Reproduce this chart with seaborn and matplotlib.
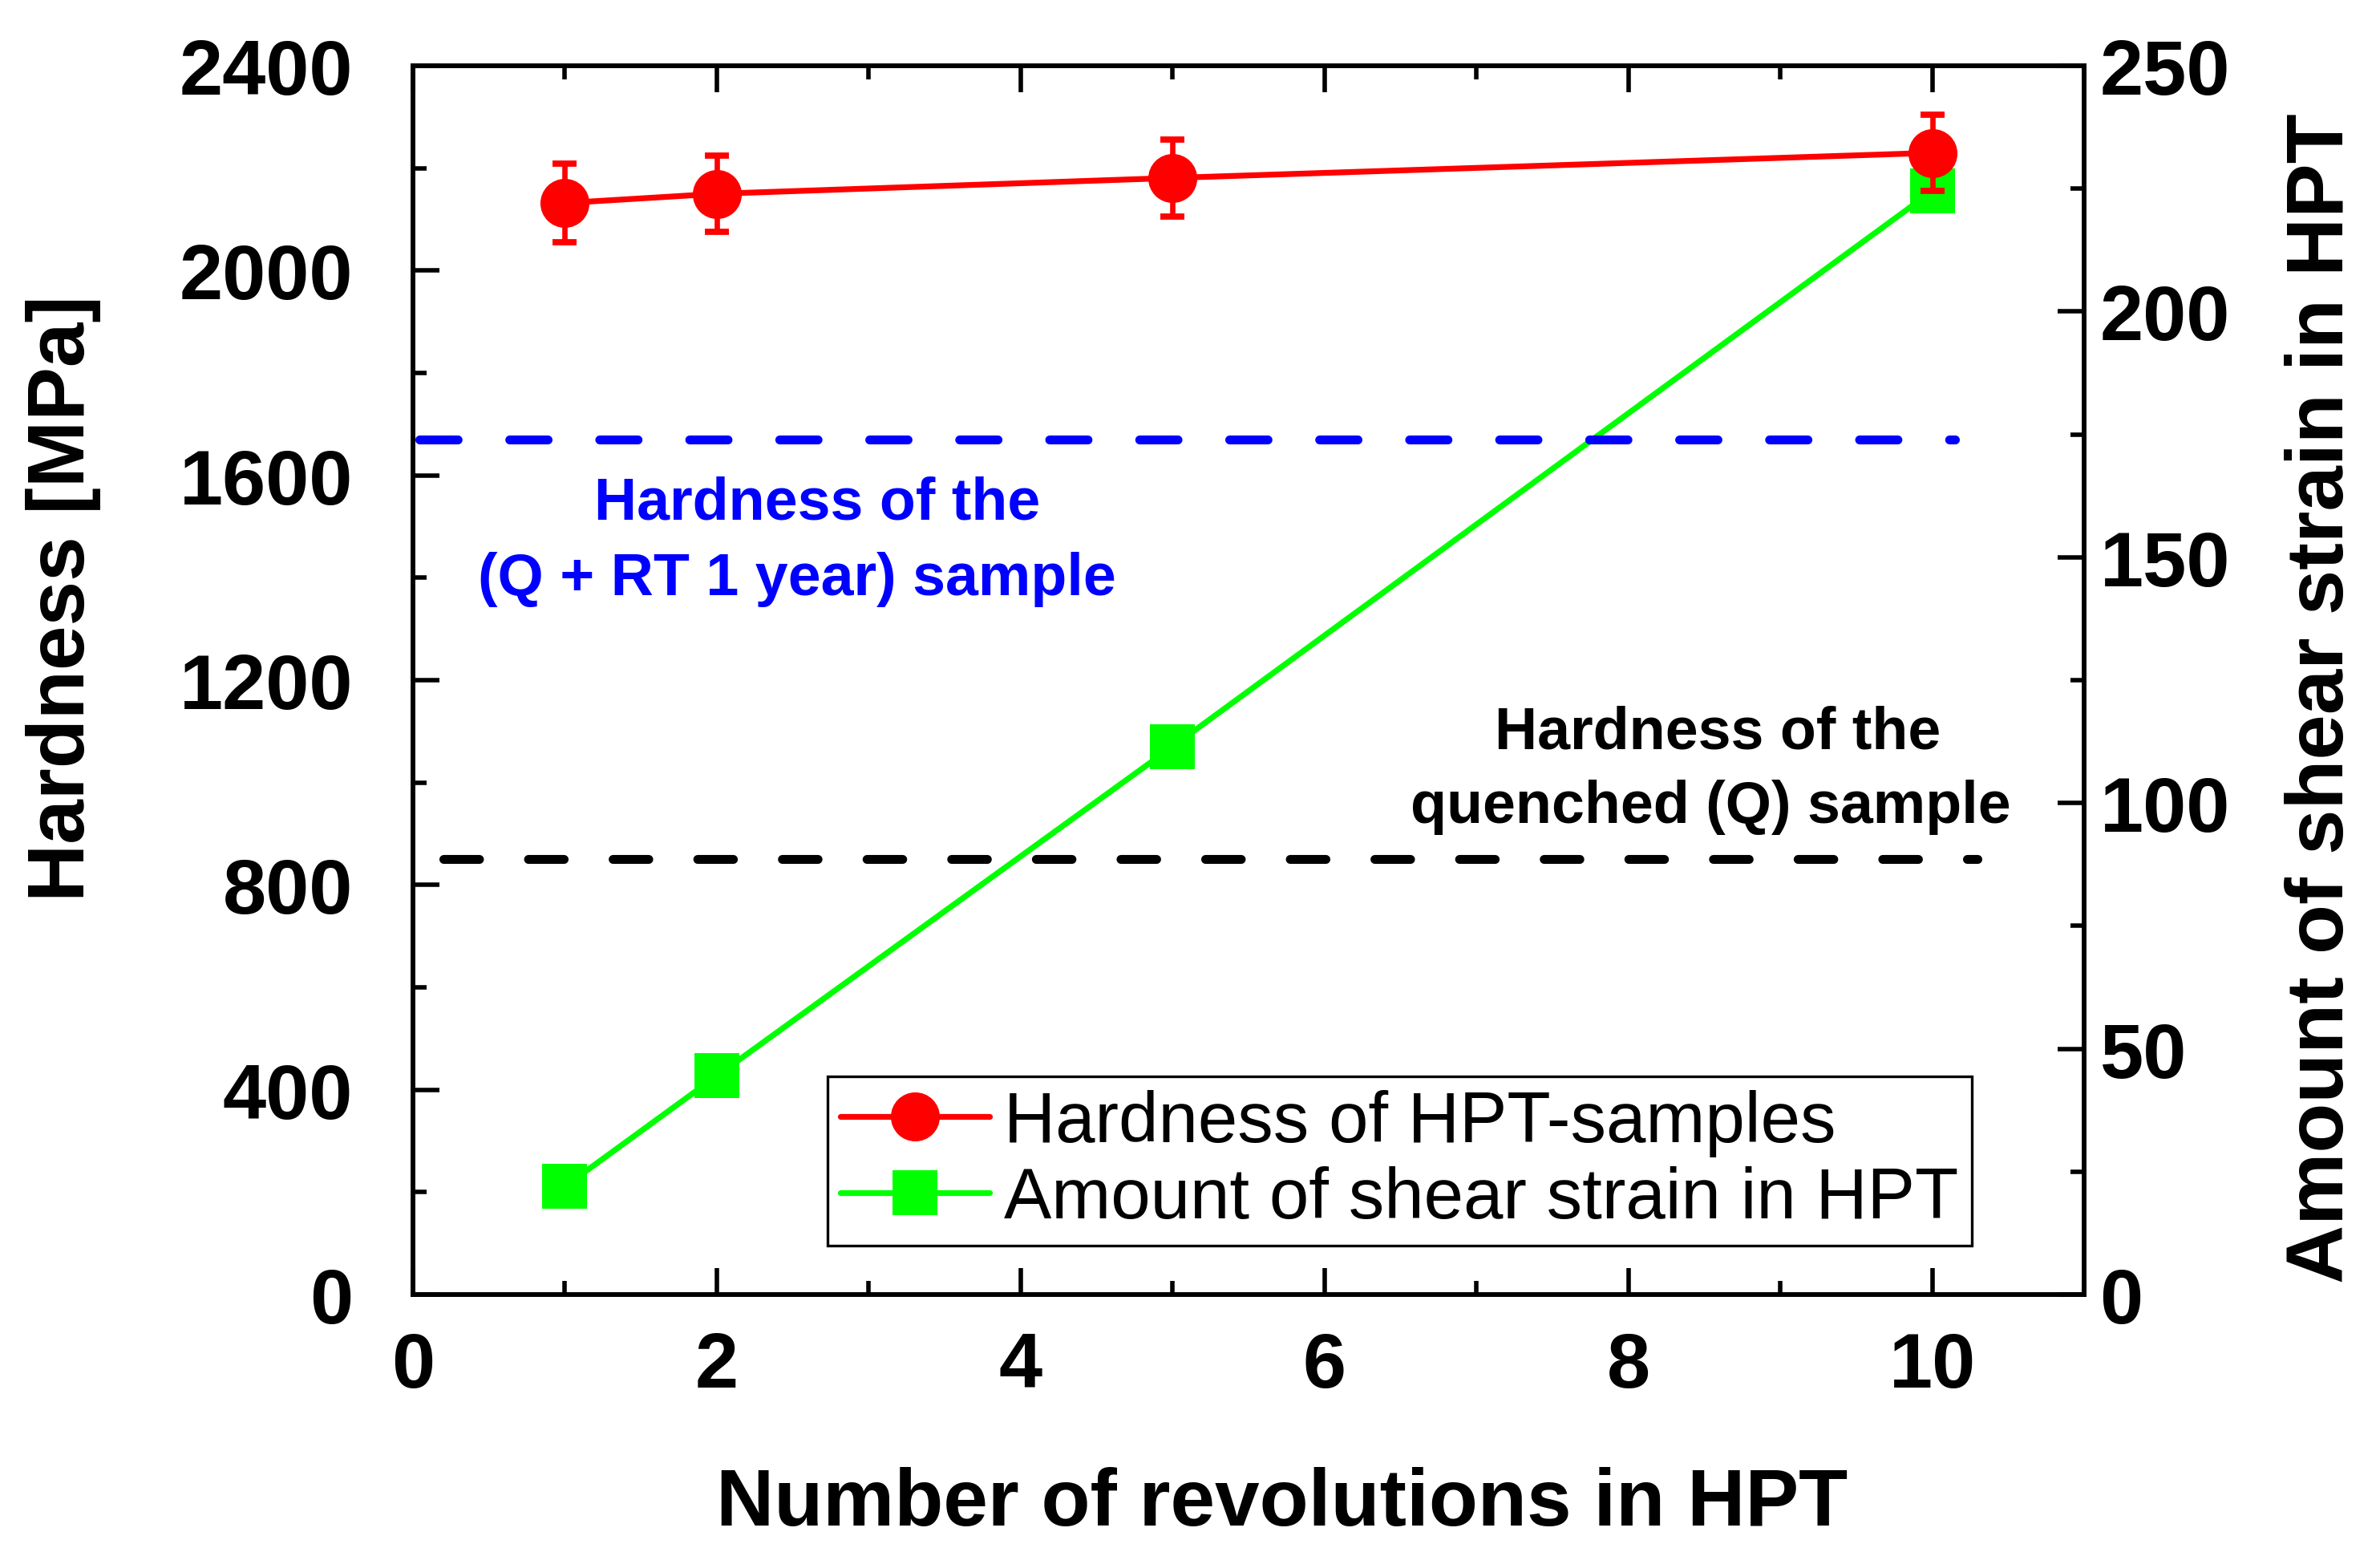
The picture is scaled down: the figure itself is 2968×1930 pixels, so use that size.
import numpy as np
import pandas as pd
import matplotlib
matplotlib.use("Agg")
import matplotlib.pyplot as plt
import seaborn as sns
from matplotlib.ticker import MultipleLocator
from matplotlib.lines import Line2D

# ------------------------
# Data
# ------------------------
revolutions = [1, 2, 5, 10]
hardness = [2132, 2150, 2181, 2230]
hardness_err = [77, 75, 75, 75]
shear_strain = [22.0, 44.5, 111.5, 224.5]

ref_hardness_aged = 1670      # (Q + RT 1 year)
ref_hardness_quenched = 850   # quenched (Q)

df = pd.DataFrame({"N": revolutions, "HV": hardness, "err": hardness_err, "gamma": shear_strain})

# ------------------------
# Style
# ------------------------
sns.set_style("ticks")
plt.rcParams['font.family'] = ['Liberation Sans', 'DejaVu Sans']
plt.rcParams['axes.linewidth'] = 2.0
for key in ['text.color', 'axes.labelcolor', 'xtick.color', 'ytick.color', 'axes.edgecolor']:
    plt.rcParams[key] = 'black'

fig = plt.figure(figsize=(14.84, 9.655), dpi=200)
ax = fig.add_axes([0.1735, 0.1636, 0.7022, 0.7934])
ax2 = ax.twinx()

# shear strain on the right axis (drawn below the hardness curve)
sns.lineplot(data=df, x="N", y="gamma", ax=ax2, color="#00FF00", lw=2.6,
             marker="s", markersize=20, markeredgecolor="#00FF00", markeredgewidth=0)

# hardness on the left axis
ax.errorbar(df["N"], df["HV"], yerr=df["err"], fmt="none", ecolor="red",
            elinewidth=2.4, capsize=5.5, capthick=2.8, zorder=3)
sns.lineplot(data=df, x="N", y="HV", ax=ax, color="red", lw=2.6,
             marker="o", markersize=22, markeredgecolor="red", markeredgewidth=0, zorder=4)

# reference hardness levels
ax.hlines(ref_hardness_aged, 0.04, 10.15, colors="#0000FF", lw=4,
          linestyles=(0, (4.3, 5.8)), capstyle="round", zorder=2)
ax.hlines(ref_hardness_quenched, 0.2, 10.3, colors="black", lw=4,
          linestyles=(0, (4.0, 5.5)), capstyle="round", zorder=2)

ax.text(2.66, 1546, "Hardness of the", color="#0000FF", fontsize=26.5,
        fontweight="bold", ha="center", va="center")
ax.text(2.53, 1398, "(Q + RT 1 year) sample", color="#0000FF", fontsize=26.5,
        fontweight="bold", ha="center", va="center")
ax.text(8.59, 1098, "Hardness of the", color="black", fontsize=26.5,
        fontweight="bold", ha="center", va="center")
ax.text(8.54, 953, "quenched (Q) sample", color="black", fontsize=26.5,
        fontweight="bold", ha="center", va="center")

ax.set_zorder(ax2.get_zorder() + 1)
ax.patch.set_visible(False)

# ------------------------
# Axes
# ------------------------
ax.set_xlim(0, 11)
ax.set_ylim(0, 2400)
ax2.set_ylim(0, 250)

ax.xaxis.set_major_locator(MultipleLocator(2))
ax.xaxis.set_minor_locator(MultipleLocator(1))
ax.yaxis.set_major_locator(MultipleLocator(400))
ax.yaxis.set_minor_locator(MultipleLocator(200))
ax2.yaxis.set_major_locator(MultipleLocator(50))
ax2.yaxis.set_minor_locator(MultipleLocator(25))

ax.tick_params(axis="x", which="both", direction="in", top=True, bottom=True,
               width=2, labelsize=35, pad=16)
ax.tick_params(axis="y", which="both", direction="in", left=True, right=False,
               width=2, labelsize=35, pad=27)
ax2.tick_params(axis="y", which="both", direction="in", right=True, left=False,
                width=2, labelsize=35, pad=7)
for a in (ax, ax2):
    a.tick_params(which="major", length=12)
    a.tick_params(which="minor", length=6)
for lab in ax.get_xticklabels() + ax.get_yticklabels() + ax2.get_yticklabels():
    lab.set_fontweight("bold")

ax.set_xlabel("Number of revolutions in HPT", fontsize=36, fontweight="bold")
ax.set_ylabel("Hardness [MPa]", fontsize=36, fontweight="bold")
ax2.set_ylabel("Amount of shear strain in HPT", fontsize=36.5, fontweight="bold", rotation=90)
ax.xaxis.label.set_verticalalignment("center")
ax.yaxis.label.set_verticalalignment("center")
ax2.yaxis.label.set_verticalalignment("center")
ax.xaxis.set_label_coords(0.52, -0.17)
ax.yaxis.set_label_coords(-0.209, 0.567)
ax2.yaxis.set_label_coords(1.1425, 0.486)

for s in ax.spines.values():
    s.set_linewidth(2)

# ------------------------
# Legend
# ------------------------
handles = [
    Line2D([], [], color="red", lw=2.6, marker="o", markersize=22, markeredgewidth=0),
    Line2D([], [], color="#00FF00", lw=2.6, marker="s", markersize=20, markeredgewidth=0),
]
labels = ["Hardness of HPT-samples", "Amount of shear strain in HPT"]
leg = ax.legend(handles, labels, loc="lower left", bbox_to_anchor=(0.248, 0.040),
                borderaxespad=0, fontsize=32, frameon=True, fancybox=False,
                edgecolor="black", framealpha=1, handlelength=2.1, handletextpad=0.2,
                labelspacing=0.12, borderpad=0.18)
leg.get_frame().set_linewidth(1.2)

fig.savefig("out.png", dpi=200)
